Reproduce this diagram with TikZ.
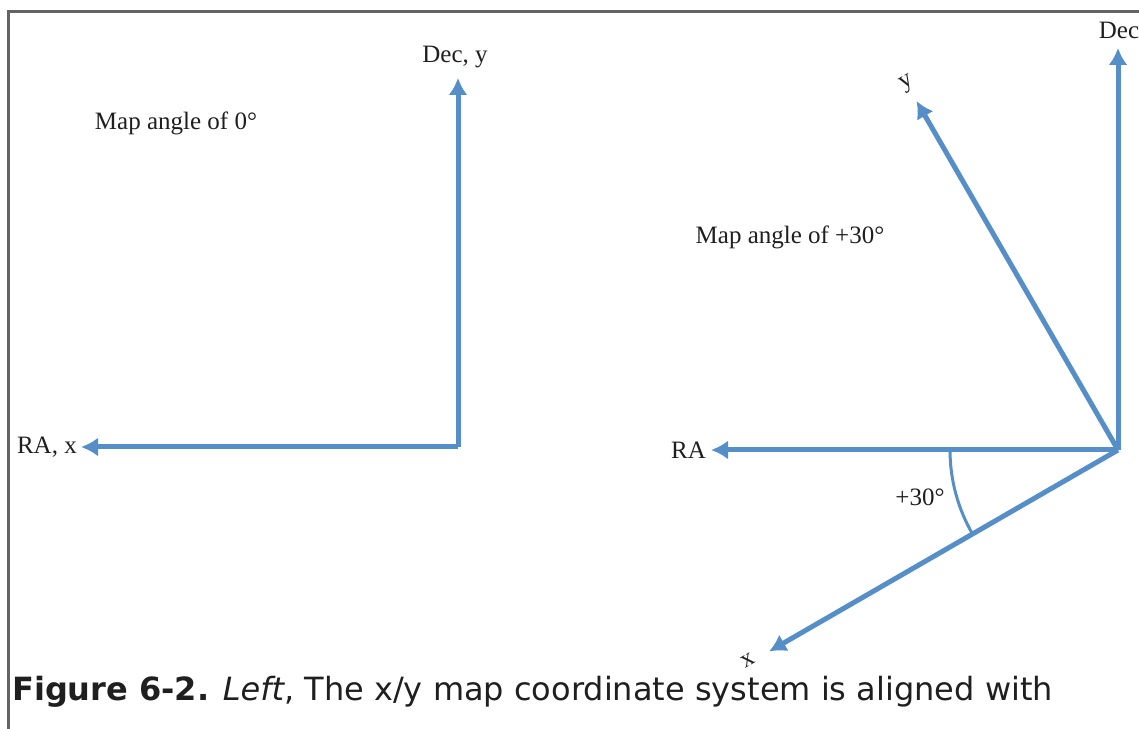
\documentclass[tikz,border=0pt]{standalone}
\usepackage{fontspec}
\setmainfont{Liberation Serif}
\newfontfamily\capfont{DejaVu Sans}
\usetikzlibrary{arrows.meta}
\definecolor{axblue}{RGB}{86,143,200}
\definecolor{framegray}{RGB}{100,100,100}
\tikzset{
  axis/.style={draw=axblue, line width=5pt, -{Latex[length=17pt,width=19pt]}},
  lbl/.style={font=\fontsize{25}{28}\selectfont, text=black!88, inner sep=1pt},
  rotlbl/.style={lbl, rotate=30},
  anglearc/.style={draw=axblue, line width=3pt},
  frameline/.style={draw=framegray, line width=3pt}
}
\begin{document}
\begin{tikzpicture}[x=1pt,y=1pt]
\useasboundingbox (0,0) rectangle (1139,728);
% frame
\coordinate (fTR) at (1145,716);
\coordinate (fTL) at (8,716);
\coordinate (fBL) at (8,-5);
\draw[frameline] (fTR) -- (fTL) -- (fBL);
% left system
\coordinate (o1) at (458,281);
\coordinate (dec1) at (458,650);
\coordinate (ra1) at (81,281);
\draw[axis] (o1) -- (dec1);
\draw[axis] (o1) -- (ra1);
\node[lbl] (dec1lbl) at (455,671) {Dec, y};
\node[lbl] (map0) at (176,605) {Map angle of 0°};
\node[lbl, anchor=east] (ra1lbl) at (78,281) {RA, x};
% right system
\coordinate (o2) at (1118,278);
\coordinate (dec2) at (1118,680);
\coordinate (ra2) at (711,278);
\coordinate (y2) at (916.5,627);
\coordinate (x2) at (769,76.5);
\draw[anglearc] (o2) ++(180:168) arc (180:210:168);
\draw[axis] (o2) -- (dec2);
\draw[axis] (o2) -- (ra2);
\draw[axis] (o2) -- (y2);
\draw[axis] (o2) -- (x2);
\node[lbl] (dec2lbl) at (1119,698) {Dec};
\node[lbl, anchor=east] (ra2lbl) at (707,278) {RA};
\node[rotlbl] (y2lbl) at (907,644) {y};
\node[rotlbl] (x2lbl) at (748,68) {x};
\node[lbl] (anglbl) at (920,231) {+30°};
\node[lbl] (map30) at (790,491) {Map angle of +30°};
% caption
\node[anchor=base west, inner sep=0pt, text=black!88, font=\capfont\fontsize{32}{36}\selectfont] (caption) at (12,28)
  {\textbf{Figure 6-2.} \textit{Left}, The x/y map coordinate system is aligned with};
\end{tikzpicture}
\end{document}
